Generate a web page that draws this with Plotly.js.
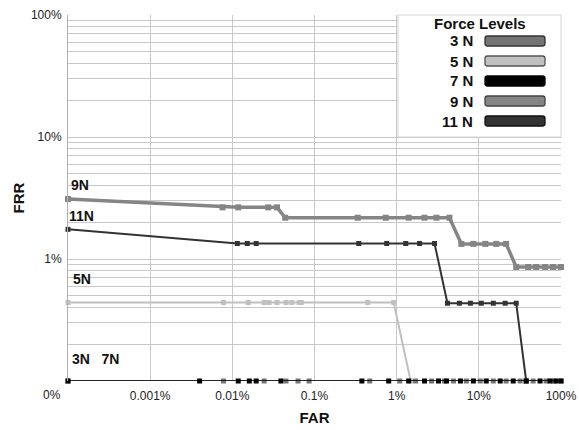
<!DOCTYPE html>
<html>
<head>
<meta charset="utf-8">
<script src="https://cdn.plot.ly/plotly-3.0.1.min.js"></script>
<style>html,body{margin:0;padding:0;background:#fff;}#chart{width:579px;height:430px;}</style>
</head>
<body>
<div id="chart"></div>
<script>
// ---- data (FAR %, FRR %) ; 0 means 0% (drawn at the axis floor) ----
const seriesNames = ['3 N', '5 N', '7 N', '9 N', '11 N'];
const seriesLabels = ['3N', '5N', '7N', '9N', '11N'];
const seriesColors = ['#747474', '#c0c0c0', '#000000', '#858585', '#333333'];

const far3N = [0, 0.0078, 0.0244, 0.045, 0.063, 0.086, 0.47, 1.09, 1.7, 2.66, 3.82, 4.91, 7.05, 10.4, 15, 21.5, 31.8, 45.8, 65.8, 82.3, 100];
const frr3N = [0, 0, 0, 0, 0, 0, 0, 0, 0, 0, 0, 0, 0, 0, 0, 0, 0, 0, 0, 0, 0];

const far5N = [0, 0.0078, 0.0156, 0.0244, 0.028, 0.035, 0.045, 0.053, 0.065, 0.069, 0.445, 0.92, 1.48];
const frr5N = [0.44, 0.44, 0.44, 0.44, 0.44, 0.44, 0.44, 0.44, 0.44, 0.44, 0.44, 0.44, 0];

const far7N = [0, 0.004, 0.0118, 0.0161, 0.0195, 0.039, 0.377, 0.8, 1.4, 2.18, 3.23, 4.04, 5.97, 8.58, 12.3, 18.2, 26.2, 37.7, 55.6, 73.6, 86.9, 100];
const frr7N = [0, 0, 0, 0, 0, 0, 0, 0, 0, 0, 0, 0, 0, 0, 0, 0, 0, 0, 0, 0, 0, 0];

const far9N = [0, 0.0076, 0.0118, 0.0273, 0.035, 0.044, 0.336, 0.736, 1.4, 2.18, 3.05, 4.39, 6.13, 8.58, 12.0, 16.3, 21.5, 28.5, 39.8, 49.8, 64, 80, 100];
const frr9N = [3.1, 2.65, 2.65, 2.65, 2.65, 2.18, 2.18, 2.18, 2.18, 2.18, 2.18, 2.18, 1.33, 1.33, 1.33, 1.33, 1.33, 0.86, 0.86, 0.86, 0.86, 0.86, 0.86];

const far11N = [0, 0.0115, 0.0152, 0.0195, 0.346, 0.757, 1.29, 1.9, 2.89, 4.15, 5.8, 7.9, 10.7, 15, 20.9, 28.5, 37.7];
const frr11N = [1.75, 1.34, 1.34, 1.34, 1.34, 1.34, 1.34, 1.34, 1.34, 0.434, 0.434, 0.434, 0.434, 0.434, 0.434, 0.434, 0];

const xTickVals = [0.0001, 0.001, 0.01, 0.1, 1, 10, 100];
const xTickText = ['', '0.001%', '0.01%', '0.1%', '1%', '10%', '100%'];
const yMajor = [0.1, 1, 10, 100];
const yMajorText = ['', '1%', '10%', '100%'];
const zeroLabel = '0%';
const xTitle = 'FAR';
const yTitle = 'FRR';
const legendTitle = 'Force Levels';

// ---- build ----
const FAR_FLOOR = 0.0001, FRR_FLOOR = 0.1;
const fx = a => a.map(v => v === 0 ? FAR_FLOOR : v);
const fy = a => a.map(v => v === 0 ? FRR_FLOOR : v);

function tr(x, y, i, w, ms) {
  return {x: fx(x), y: fy(y), type: 'scatter', mode: 'lines+markers', name: seriesNames[i],
    line: {color: seriesColors[i], width: w}, marker: {symbol: 'square', size: ms, color: seriesColors[i]},
    cliponaxis: false, showlegend: false, hoverinfo: 'x+y'};
}
const data = [
  tr(far5N, frr5N, 1, 2, 5),
  tr(far9N, frr9N, 3, 3.5, 6),
  tr(far11N, frr11N, 4, 2, 5),
  tr(far3N, frr3N, 0, 1.5, 5),
  tr(far7N, frr7N, 2, 1.5, 5)
];

// y gridlines at 1..9 per decade
const yTickVals = [], yTickText = [];
for (let d = -1; d < 2; d++) {
  for (let m = 1; m <= 9; m++) {
    const v = +(m * Math.pow(10, d)).toPrecision(3);
    yTickVals.push(v);
    const k = yMajor.indexOf(v);
    yTickText.push(k >= 0 ? yMajorText[k] : '');
  }
}
yTickVals.push(100); yTickText.push(yMajorText[3]);

const W = 493, H = 366; // plot size in px
const px = p => p / W, py = p => p / H;
const font = {family: 'Liberation Sans, Arial, sans-serif', size: 12, color: '#222'};
const bold = {family: 'Liberation Sans, Arial, sans-serif', size: 14, color: '#111', weight: 'bold'};
const boldL = {family: 'Liberation Sans, Arial, sans-serif', size: 15, color: '#111', weight: 'bold'};

const annotations = [
  {xref: 'paper', yref: 'paper', x: 0, y: 0, xanchor: 'right', yanchor: 'middle', xshift: -5, yshift: -14, text: zeroLabel, showarrow: false, font: font},
  {xref: 'paper', yref: 'paper', x: 0, y: py(381 - 185), xanchor: 'left', xshift: 1, text: '<b>' + seriesLabels[3] + '</b>', showarrow: false, font: bold},
  {xref: 'paper', yref: 'paper', x: 0, y: py(381 - 216), xanchor: 'left', xshift: -1, text: '<b>' + seriesLabels[4] + '</b>', showarrow: false, font: bold},
  {xref: 'paper', yref: 'paper', x: 0, y: py(381 - 289), xanchor: 'left', xshift: 3, text: '<b>' + seriesLabels[1] + '</b>', showarrow: false, font: bold},
  {xref: 'paper', yref: 'paper', x: 0, y: py(381 - 369), xanchor: 'left', xshift: 2, text: '<b>' + seriesLabels[0] + '&nbsp;&nbsp;&nbsp;' + seriesLabels[2] + '</b>', showarrow: false, font: bold},
  {xref: 'paper', yref: 'paper', x: px(480 - 68), y: py(381 - 23), xanchor: 'center', yanchor: 'middle', text: '<b>' + legendTitle + '</b>', showarrow: false, font: boldL}
];
const shapes = [
  {type: 'rect', xref: 'paper', yref: 'paper', x0: px(398 - 68), x1: 1, y0: py(381 - 137), y1: 1, fillcolor: '#fff', line: {color: '#d4d4d4', width: 1}, layer: 'above'}
];
function rrect(x0, x1, y0, y1, r) {
  const rx = px(r), ry = py(r);
  return `M${x0 + rx},${y0} L${x1 - rx},${y0} Q${x1},${y0} ${x1},${y0 + ry} L${x1},${y1 - ry} Q${x1},${y1} ${x1 - rx},${y1} L${x0 + rx},${y1} Q${x0},${y1} ${x0},${y1 - ry} L${x0},${y0 + ry} Q${x0},${y0} ${x0 + rx},${y0} Z`;
}
const outline = ['#333', '#555', '#000', '#444', '#111'];
seriesNames.forEach((n, i) => {
  const cy = 41 + 20 * i;
  annotations.push({xref: 'paper', yref: 'paper', x: px(475 - 68), y: py(381 - cy), xanchor: 'right', yanchor: 'middle', text: '<b>' + n + '</b>', showarrow: false, font: boldL});
  shapes.push({type: 'path', xref: 'paper', yref: 'paper', path: rrect(px(485 - 68), px(545 - 68), py(381 - cy - 5), py(381 - cy + 5), 2.5),
    fillcolor: seriesColors[i], line: {color: outline[i], width: 1.3}, layer: 'above'});
});

const layout = {
  width: 579, height: 430,
  margin: {l: 68, r: 18, t: 15, b: 49},
  paper_bgcolor: '#fff', plot_bgcolor: '#fff',
  font: font,
  showlegend: false,
  xaxis: {type: 'log', range: [-4, 2], tickmode: 'array', tickvals: xTickVals, ticktext: xTickText,
    showgrid: true, gridcolor: '#c8c8c8', gridwidth: 1, zeroline: false, showline: false, ticks: '',
    ticklabelstandoff: 6,
    tickfont: font, title: {text: '<b>' + xTitle + '</b>', font: boldL, standoff: 10}},
  yaxis: {type: 'log', range: [-1, 2], tickmode: 'array', tickvals: yTickVals, ticktext: yTickText,
    showgrid: true, gridcolor: '#c8c8c8', gridwidth: 1, zeroline: false, showline: true, linecolor: '#b0b0b0', ticks: '',
    ticklabelstandoff: 3,
    tickfont: font, title: {text: '<b>' + yTitle + '</b>', font: boldL, standoff: 2}},
  annotations: annotations,
  shapes: shapes
};
Plotly.newPlot('chart', data, layout, {displayModeBar: false, staticPlot: true});
</script>
</body>
</html>
